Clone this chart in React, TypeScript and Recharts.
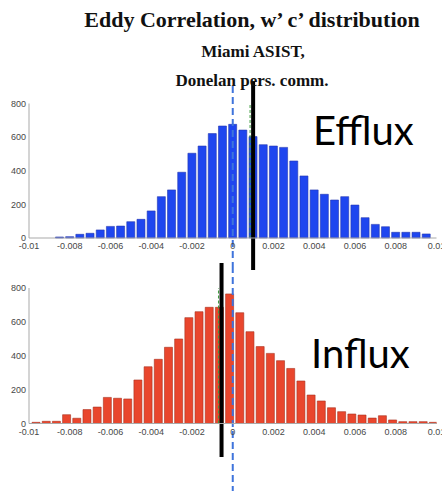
import React from 'react';
import { BarChart, Bar, XAxis, YAxis, ReferenceLine } from 'recharts';

// w'c' bin centres and counts, upward (efflux) panel
const effluxBins = [
  -0.0085, -0.008, -0.0075, -0.007, -0.0065, -0.006, -0.0055, -0.005, -0.0045, -0.004,
  -0.0035, -0.003, -0.0025, -0.002, -0.0015, -0.001, -0.0005, 0, 0.0005, 0.001,
  0.0015, 0.002, 0.0025, 0.003, 0.0035, 0.004, 0.0045, 0.005, 0.0055, 0.006,
  0.0065, 0.007, 0.0075, 0.008, 0.0085, 0.009, 0.0095,
];
const effluxCounts = [
  6, 8, 22, 28, 48, 69, 71, 97, 111, 161,
  246, 286, 391, 504, 547, 621, 666, 676, 642, 603,
  555, 547, 539, 458, 369, 286, 260, 226, 246, 196,
  121, 81, 67, 34, 34, 34, 24,
];

// downward (influx) panel, binned on a slightly shifted grid
const influxBins = [
  -0.00965, -0.00915, -0.00865, -0.00815, -0.00765, -0.00715, -0.00665, -0.00615, -0.00565, -0.00515,
  -0.00465, -0.00415, -0.00365, -0.00315, -0.00265, -0.00215, -0.00165, -0.00115, -0.00065, -0.00015,
  0.00035, 0.00085, 0.00135, 0.00185, 0.00235, 0.00285, 0.00335, 0.00385, 0.00435, 0.00485,
  0.00535, 0.00585, 0.00635, 0.00685, 0.00735, 0.00785, 0.00835, 0.00885, 0.00935, 0.00985,
];
const influxCounts = [
  7, 13, 13, 52, 31, 82, 97, 154, 149, 145,
  257, 335, 379, 450, 499, 625, 660, 686, 686, 765,
  654, 542, 454, 414, 371, 325, 251, 168, 133, 93,
  70, 56, 50, 32, 46, 21, 11, 11, 11, 7,
];

const xTicks = [-0.01, -0.008, -0.006, -0.004, -0.002, 0, 0.002, 0.004, 0.006, 0.008, 0.01];
const yTicks = [0, 200, 400, 600, 800];

// flux estimates marked on each panel
const effluxMark = 0.001;
const influxMark = -0.00055;
const effluxMean = 0.00085;
const influxMean = -0.0007;

const effluxRows = effluxBins.map((x, i) => ({ x, n: effluxCounts[i] }));
const influxRows = influxBins.map((x, i) => ({ x, n: influxCounts[i] }));

const axisGrey = '#a9a9a9';
const tickFont = { fontSize: 9, fill: '#474747', fontFamily: '"Liberation Sans", Arial, sans-serif' };

type PanelProps = {
  rows: { x: number; n: number }[];
  fill: string;
  edge: string;
  top: number;
  height: number;
  margin: { top: number; right: number; bottom: number; left: number };
  mark: number;
  mean: number;
  markSpan: [number, number];
  zeroSpan: [number, number];
};

function Panel({ rows, fill, edge, top, height, margin, mark, mean, markSpan, zeroSpan }: PanelProps) {
  return (
    <div style={{ position: 'absolute', left: 0, top, width: 442, height }}>
      <BarChart width={442} height={height} data={rows} margin={margin} barSize={8}>
        <XAxis
          xAxisId="b"
          dataKey="x"
          type="number"
          domain={[-0.01, 0.01]}
          allowDataOverflow
          ticks={xTicks}
          interval={0}
          height={22}
          tickLine={false}
          tickSize={3}
          tickMargin={2}
          stroke={axisGrey}
          tick={tickFont}
        />
        <XAxis
          xAxisId="t"
          orientation="top"
          dataKey="x"
          type="number"
          domain={[-0.01, 0.01]}
          allowDataOverflow
          ticks={xTicks}
          interval={0}
          height={0}
          mirror
          tick={false}
          tickSize={3}
          stroke={axisGrey}
        />
        <YAxis
          yAxisId="l"
          domain={[0, 800]}
          ticks={yTicks}
          interval={0}
          width={29}
          tickLine={false}
          tickSize={3}
          tickMargin={0}
          stroke={axisGrey}
          tick={tickFont}
        />
        <YAxis
          yAxisId="r"
          orientation="right"
          domain={[0, 800]}
          ticks={yTicks}
          interval={0}
          width={0}
          mirror
          tick={false}
          tickSize={3}
          stroke={axisGrey}
        />
        <Bar
          xAxisId="b"
          yAxisId="l"
          dataKey="n"
          fill={fill}
          stroke={edge}
          strokeWidth={0.6}
          isAnimationActive={false}
        />
        <ReferenceLine
          xAxisId="b"
          yAxisId="l"
          x={mean}
          stroke="#3d9a3d"
          strokeWidth={1}
          strokeDasharray="3 2"
        />
        <ReferenceLine
          xAxisId="b"
          yAxisId="l"
          segment={[{ x: mark, y: markSpan[0] }, { x: mark, y: markSpan[1] }]}
          ifOverflow="visible"
          stroke="#000"
          strokeWidth={4}
        />
        <ReferenceLine
          xAxisId="b"
          yAxisId="l"
          segment={[{ x: 0, y: zeroSpan[0] }, { x: 0, y: zeroSpan[1] }]}
          ifOverflow="visible"
          stroke="#3f74dc"
          strokeWidth={2}
          strokeDasharray="7 4"
        />
      </BarChart>
    </div>
  );
}

export default function App() {
  return (
    <div
      style={{
        position: 'absolute',
        left: 0,
        top: 0,
        width: 442,
        height: 491,
        background: '#fff',
        overflow: 'hidden',
      }}
    >
      <Panel
        rows={effluxRows}
        fill="#1f46ef"
        edge="#2436b0"
        top={75}
        height={200}
        margin={{ top: 28.5, right: 5.5, bottom: 15, left: 0 }}
        mark={effluxMark}
        mean={effluxMean}
        markSpan={[928, -190]}
        zeroSpan={[904, -166]}
      />
      <Panel
        rows={influxRows}
        fill="#e9462d"
        edge="#a8301f"
        top={258}
        height={233}
        margin={{ top: 30, right: 5.5, bottom: 45.5, left: 0 }}
        mark={influxMark}
        mean={influxMean}
        markSpan={[948, -198]}
        zeroSpan={[930, -400]}
      />
      <svg
        width={442}
        height={491}
        style={{ position: 'absolute', left: 0, top: 0, pointerEvents: 'none' }}
      >
        <g fontFamily='"Liberation Serif", "Times New Roman", serif' fontWeight="bold" fill="#111" textAnchor="middle">
          <text x={252} y={27} fontSize={22}>Eddy Correlation, w’ c’ distribution</text>
          <text x={253} y={57} fontSize={17}>Miami ASIST,</text>
          <text x={252} y={86} fontSize={17}>Donelan pers. comm.</text>
        </g>
        <g fontFamily="Lato, 'Open Sans', sans-serif" fontSize={40} fill="#000">
          <text x={313} y={145}>Efflux</text>
          <text x={311} y={368}>Influx</text>
        </g>
      </svg>
    </div>
  );
}
